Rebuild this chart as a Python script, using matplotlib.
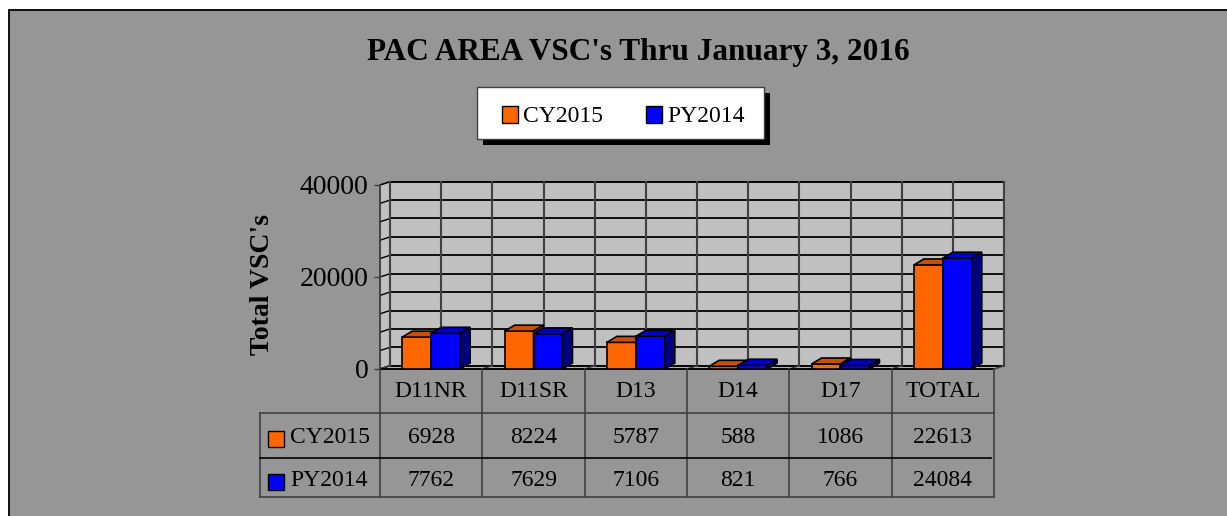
import numpy as np
import matplotlib
matplotlib.use('Agg')
import matplotlib.pyplot as plt
from matplotlib.patches import Polygon, Rectangle

# data
categories = ['D11NR', 'D11SR', 'D13', 'D14', 'D17', 'TOTAL']
cy2015 = [6928, 8224, 5787, 588, 1086, 22613]
py2014 = [7762, 7629, 7106, 821, 766, 24084]
series_names = ['CY2015', 'PY2014']
y_ticks = [0, 20000, 40000]
grid_step = 4000
y_max = 40000

orange = ['#ff6600', '#c85000', '#8a3800']   # front, top, side
blue = ['#0000ff', '#0000c8', '#000080']
wall_color = '#c0c0c0'
floor_color = '#b0b0b0'
bg_color = '#969696'
line_dark = '#404040'

plt.rcParams['font.family'] = ['Liberation Serif', 'DejaVu Serif']

W, H = 1227, 516
fig = plt.figure(figsize=(W / 100, H / 100), dpi=100)
fig.patch.set_facecolor('white')


def fx(px):
    return px / W


def fy(py):
    return 1 - py / H


# gray chart area with black border on top and left
fig.add_artist(Rectangle((fx(8.5), -0.02), 1.1, fy(9.5) + 0.02,
                         transform=fig.transFigure, fc=bg_color,
                         ec='black', lw=1.3, zorder=0))

# main (front) axes
ax = fig.add_axes([fx(380), fy(369), fx(994) - fx(380), fy(185) - fy(369)])
n = len(categories)
ax.set_xlim(0, n)
ax.set_ylim(0, y_max)
ax.patch.set_visible(False)
for s in ['top', 'right', 'bottom']:
    ax.spines[s].set_visible(False)
ax.spines['left'].set_color(line_dark)
ax.spines['left'].set_linewidth(1.2)
ax.set_xticks([])
ax.set_yticks(y_ticks)
ax.tick_params(axis='y', length=4.3, width=1.0, color=line_dark,
               labelsize=20, pad=4)
ax.set_ylabel("Total VSC's", fontsize=20, fontweight='bold', va='center')
ax.yaxis.set_label_coords(-0.192, 0.457)

# pixel -> data conversions for the oblique depth
bb = ax.get_position()
ppx = bb.width * W / n
ppy = bb.height * H / y_max


def depth(dx, dy):
    return dx / ppx, dy / ppy


wdx, wdy = depth(10, 3.3)
bdx, bdy = depth(10, 6)

# back wall, left wall, floor
ax.add_patch(Polygon([(wdx, wdy), (n + wdx, wdy), (n + wdx, y_max + wdy),
                      (wdx, y_max + wdy)], closed=True, fc=wall_color,
                     ec=line_dark, lw=1.2, clip_on=False, zorder=0))
ax.add_patch(Polygon([(0, 0), (wdx, wdy), (wdx, y_max + wdy), (0, y_max)],
                     closed=True, fc=wall_color, ec=line_dark, lw=1.0,
                     clip_on=False, zorder=0.5))
ax.add_patch(Polygon([(0, 0), (n, 0), (n + wdx, wdy), (wdx, wdy)],
                     closed=True, fc=floor_color, ec=line_dark, lw=1.0,
                     clip_on=False, zorder=0.5))

for v in np.arange(0, y_max + 1, grid_step):
    ax.plot([wdx, n + wdx], [v + wdy, v + wdy], color='black', lw=1.3,
            clip_on=False, zorder=1)
    ax.plot([0, wdx], [v, v + wdy], color='black', lw=1.0,
            clip_on=False, zorder=1)
for k in np.arange(0, n + 0.01, 0.5):
    ax.plot([k + wdx, k + wdx], [wdy, y_max + wdy], color=line_dark, lw=1.5,
            clip_on=False, zorder=1)
for k in range(n + 1):
    ax.plot([k, k + wdx], [0, wdy], color=line_dark, lw=1.0,
            clip_on=False, zorder=1)
# front edge of the floor
ax.plot([0, n], [0, 0], color='black', lw=1.3, clip_on=False, zorder=1.5)

# 3D-looking bars
bw = 0.283
x = np.arange(n) + 0.5
for vals, offs, cols, z in [(cy2015, -bw, orange, 3), (py2014, 0.0, blue, 4)]:
    ax.bar(x + offs, vals, width=bw, align='edge', color=cols[0],
           edgecolor='black', lw=1.2, zorder=z)
    for xi, v in zip(x + offs, vals):
        ax.add_patch(Polygon([(xi, v), (xi + bw, v), (xi + bw + bdx, v + bdy),
                              (xi + bdx, v + bdy)], closed=True, fc=cols[1],
                             ec='black', lw=1.2, zorder=z, clip_on=False))
        ax.add_patch(Polygon([(xi + bw, 0), (xi + bw + bdx, bdy),
                              (xi + bw + bdx, v + bdy), (xi + bw, v)],
                             closed=True, fc=cols[2], ec='black', lw=1.2,
                             zorder=z, clip_on=False))

# data table under the plot
tr = ax.get_xaxis_transform()


def ay(py):
    return (369 - py) / (369 - 185)


x_left = (260 - 380) / ppx
for k in range(n + 1):
    ax.plot([k, k], [ay(369), ay(497.3)], color=line_dark, lw=1.2,
            transform=tr, clip_on=False)
ax.plot([x_left, x_left], [ay(413), ay(497.3)], color=line_dark, lw=1.2,
        transform=tr, clip_on=False)
ax.plot([x_left, n], [ay(413), ay(413)], color=line_dark, lw=1.2,
        transform=tr, clip_on=False)
ax.plot([x_left, n - 0.03], [ay(457.7), ay(457.7)], color='black', lw=1.2,
        transform=tr, clip_on=False)
ax.plot([x_left, n], [ay(497.3), ay(497.3)], color=line_dark, lw=1.2,
        transform=tr, clip_on=False)

for i, c in enumerate(categories):
    ax.text(x[i], ay(396.7), c, transform=tr, ha='center', va='baseline',
            fontsize=17)
rows = [(series_names[0], cy2015, orange[0], 443.3),
        (series_names[1], py2014, blue[0], 486.0)]
sq_w = 16 / ppx
sq_h = 16 / (369 - 185)
for name, vals, col, base in rows:
    for i, v in enumerate(vals):
        ax.text(x[i], ay(base), str(v), transform=tr, ha='center',
                va='baseline', fontsize=17)
    ax.add_patch(Rectangle(((268.3 - 380) / ppx, ay(base + 4)), sq_w, sq_h,
                           transform=tr, fc=col, ec='black', lw=1.0,
                           clip_on=False))
    ax.text((290 - 380) / ppx, ay(base), name, transform=tr, ha='left',
            va='baseline', fontsize=17)

# title
fig.text(fx(638), fy(60), "PAC AREA VSC's Thru January 3, 2016",
         ha='center', va='baseline', fontsize=22.5, fontweight='bold')

# legend box with a hard black shadow
lx0, lx1, ly0, ly1 = 477.3, 764.0, 87.3, 139.3
fig.add_artist(Rectangle((fx(lx0 + 6), fy(ly1 + 6)), fx(lx1) - fx(lx0),
                         (ly1 - ly0) / H, transform=fig.transFigure,
                         fc='black', ec='black', lw=0))
fig.add_artist(Rectangle((fx(lx0), fy(ly1)), fx(lx1) - fx(lx0),
                         (ly1 - ly0) / H, transform=fig.transFigure,
                         fc='white', ec=line_dark, lw=1.0))
for name, col, sx, tx in [(series_names[0], orange[0], 501.7, 523.0),
                          (series_names[1], blue[0], 645.7, 667.3)]:
    fig.add_artist(Rectangle((fx(sx), fy(122.7)), 16.6 / W, 16.6 / H,
                             transform=fig.transFigure, fc=col,
                             ec='black', lw=1.0))
    fig.text(fx(tx), fy(121.7), name, ha='left', va='baseline', fontsize=17)

fig.savefig('out.png', dpi=100, facecolor=fig.get_facecolor())
